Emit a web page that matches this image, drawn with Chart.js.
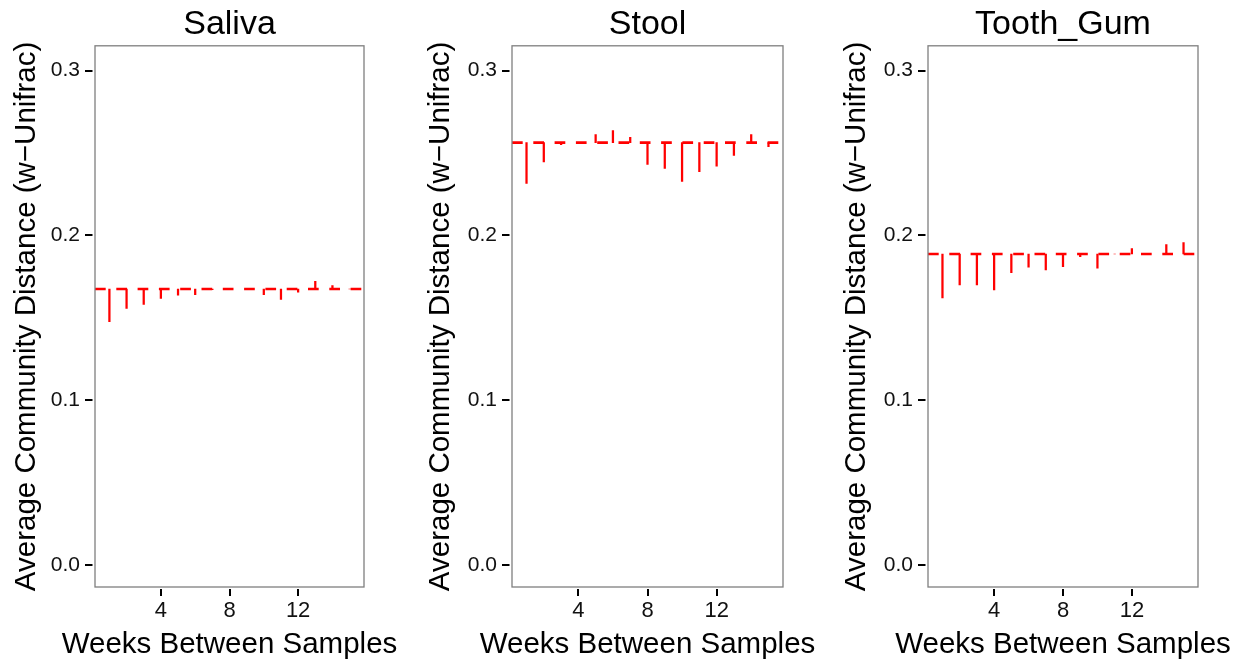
<!DOCTYPE html>
<html>
<head>
<meta charset="utf-8">
<title>Average Community Distance</title>
<script src="https://cdn.jsdelivr.net/npm/chart.js@4.4.0/dist/chart.umd.min.js"></script>
<style>
  html, body { margin: 0; padding: 0; background: #fff; }
  #wrap { position: relative; width: 1244px; height: 662px; overflow: hidden; }
  #wrap canvas { position: absolute; top: 0; }
</style>
</head>
<body>
<div id="wrap">
  <canvas id="chartSaliva" width="415" height="662" style="left:0px"></canvas>
  <canvas id="chartStool" width="415" height="662" style="left:415px"></canvas>
  <canvas id="chartTooth" width="414" height="662" style="left:830px"></canvas>
</div>
<script>
// weeks between samples (x positions of the segments)
const weeks = [1, 2, 3, 4, 5, 6, 7, 8, 9, 10, 11, 12, 13, 14, 15];

// average w-Unifrac distance per week
const salivaValues = [0.1475, 0.1556, 0.158, 0.1617, 0.1637, 0.164, 0.167, 0.1675, 0.1674, 0.1639, 0.161, 0.1655, 0.172, 0.1694, 0.1674];
const stoolValues = [0.2315, 0.2445, 0.255, 0.2562, 0.2611, 0.2635, 0.2594, 0.243, 0.2406, 0.2327, 0.2386, 0.242, 0.2485, 0.2611, 0.2538];
const toothValues = [0.162, 0.1698, 0.1698, 0.1668, 0.1773, 0.1807, 0.1789, 0.181, 0.187, 0.1801, 0.1886, 0.1919, 0.1886, 0.1943, 0.1955];

// overall mean per body site (dashed line)
const salivaMean = 0.1674;
const stoolMean = 0.2562;
const toothMean = 0.1886;

const panelTitles = ["Saliva", "Stool", "Tooth_Gum"];
const xTicks = [4, 8, 12];
const yTicks = [0.0, 0.1, 0.2, 0.3];
const xAxisTitle = "Weeks Between Samples";
const yAxisTitle = "Average Community Distance (w\u2212Unifrac)";

const FONT = "'Liberation Sans', Arial, Helvetica, sans-serif";
const RED = "#ff0000";

// ggplot-like expansion of the x range
const xSpan = weeks[weeks.length - 1] - weeks[0];
const xMin = weeks[0] - 0.06 * xSpan;
const xMax = weeks[weeks.length - 1] + 0.06 * xSpan;
const yMin = -0.0135;
const yMax = 0.315;

/**
 * Draws the grey panel frame, tick marks and the axis titles
 * (axis titles drawn by hand so they are not squeezed to the panel width)
 */
const panelDecor = {
  id: "panelDecor",
  afterDraw: (chart, args, opts) => {
    const { ctx, chartArea, scales } = chart;
    const { left, right, top, bottom } = chartArea;
    ctx.save();
    ctx.strokeStyle = "#7f7f7f";
    ctx.lineWidth = 1.3;
    ctx.strokeRect(left, top, right - left, bottom - top);

    // tick marks, with the small gap ggplot leaves near the panel
    ctx.strokeStyle = "#000";
    ctx.lineWidth = 2;
    ctx.beginPath();
    yTicks.forEach((v) => {
      const py = Math.round(scales.y.getPixelForValue(v));
      ctx.moveTo(left - 10, py);
      ctx.lineTo(left - 2.5, py);
    });
    xTicks.forEach((v) => {
      const px = Math.round(scales.x.getPixelForValue(v));
      ctx.moveTo(px, bottom + 2);
      ctx.lineTo(px, bottom + 9);
    });
    ctx.stroke();

    ctx.fillStyle = "#000";
    ctx.font = `29.5px ${FONT}`;
    ctx.textAlign = "center";
    ctx.textBaseline = "alphabetic";
    ctx.fillText(xAxisTitle, (left + right) / 2, 653);

    ctx.translate(opts.yTitleX, (top + bottom) / 2);
    ctx.rotate(-Math.PI / 2);
    ctx.textBaseline = "middle";
    ctx.fillText(yAxisTitle, 0, 0);
    ctx.restore();
  },
};

/**
 * Builds one panel
 * @param {string} id - canvas id
 * @param {string} title - panel title
 * @param {number[]} values - weekly values
 * @param {number} mean - overall mean
 * @param {Object} box - plot area placement inside the canvas
 */
const buildPanel = (id, title, values, mean, box) => {
  const ctx = document.getElementById(id).getContext("2d");

  return new Chart(ctx, {
    type: "bar",
    data: {
      datasets: [
        {
          type: "line",
          label: "mean",
          data: [
            { x: xMin, y: mean },
            { x: xMax, y: mean },
          ],
          borderColor: RED,
          borderWidth: 2.6,
          borderDash: [10.7, 10.6],
          borderCapStyle: "butt",
          pointRadius: 0,
          fill: false,
          order: 1,
        },
        {
          type: "bar",
          label: title,
          data: weeks.map((w, i) => ({ x: w, y: [mean, values[i]] })),
          backgroundColor: RED,
          borderWidth: 0,
          barThickness: 1.6,
          order: 2,
        },
      ],
    },
    options: {
      responsive: false,
      animation: false,
      devicePixelRatio: 1,
      layout: {
        padding: { left: 0, right: box.right, top: 0, bottom: 0 },
      },
      scales: {
        x: {
          type: "linear",
          min: xMin,
          max: xMax,
          offset: false,
          afterBuildTicks: (scale) => {
            scale.ticks = xTicks.map((v) => ({ value: v }));
          },
          afterFit: (scale) => {
            scale.height = 75;
          },
          grid: {
            offset: false,
            drawOnChartArea: false,
            drawTicks: true,
            tickLength: 9,
            color: "rgba(0,0,0,0)",
          },
          border: { display: false },
          ticks: {
            autoSkip: false,
            maxRotation: 0,
            padding: 2,
            color: "#111",
            font: { family: FONT, size: 22 },
            callback: (v) => String(v),
          },
        },
        y: {
          min: yMin,
          max: yMax,
          afterBuildTicks: (scale) => {
            scale.ticks = yTicks.map((v) => ({ value: v }));
          },
          afterFit: (scale) => {
            scale.width = box.left;
          },
          grid: {
            drawOnChartArea: false,
            drawTicks: true,
            tickLength: 8,
            color: "rgba(0,0,0,0)",
          },
          border: { display: false },
          ticks: {
            padding: 7,
            color: "#111",
            font: { family: FONT, size: 21 },
            callback: (v) => Number(v).toFixed(1),
          },
        },
      },
      plugins: {
        legend: { display: false },
        tooltip: { enabled: false },
        title: {
          display: true,
          text: title,
          fullSize: false,
          color: "#000",
          font: { family: FONT, size: 34, weight: "normal" },
          padding: { top: 4, bottom: 1 },
        },
        panelDecor: { yTitleX: box.yTitleX },
      },
    },
    plugins: [panelDecor],
  });
};

buildPanel("chartSaliva", panelTitles[0], salivaValues, salivaMean, { left: 95, right: 51, yTitleX: 27 });
buildPanel("chartStool", panelTitles[1], stoolValues, stoolMean, { left: 97, right: 47, yTitleX: 26 });
buildPanel("chartTooth", panelTitles[2], toothValues, toothMean, { left: 98, right: 46, yTitleX: 27 });
</script>
</body>
</html>
